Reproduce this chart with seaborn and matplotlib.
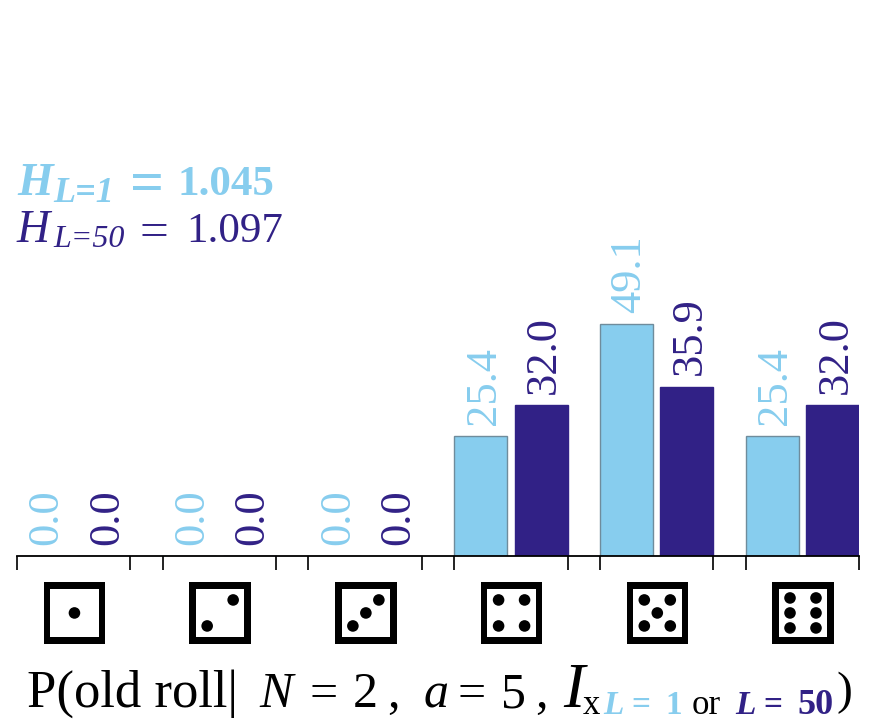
import matplotlib
matplotlib.use("Agg")
import matplotlib.pyplot as plt
from matplotlib.patches import Circle, Rectangle
import pandas as pd
import seaborn as sns

# Roll probabilities (%) for each die face
faces = ["1", "2", "3", "4", "5", "6"]
values_l1 = [0.0, 0.0, 0.0, 25.4, 49.1, 25.4]
values_l50 = [0.0, 0.0, 0.0, 32.0, 35.9, 32.0]
series_names = ["L = 1", "L = 50"]
entropy_l1 = "1.045"
entropy_l50 = "1.097"

LIGHT = "#87CDEE"
DARK = "#312186"
SERIF = "Liberation Serif"
W, H = 878, 725

# Pip layout of each face, in die units (centre at 0)
pips = {
    "1": [(0, 0)],
    "2": [(-13, -13), (13, 13)],
    "3": [(-13, -13), (0, 0), (13, 13)],
    "4": [(-13, -13), (13, -13), (-13, 13), (13, 13)],
    "5": [(-13, -13), (13, -13), (0, 0), (-13, 13), (13, 13)],
    "6": [(-13, -15), (13, -15), (-13, 0), (13, 0), (-13, 15), (13, 15)],
}

df = pd.DataFrame({
    "face": faces * 2,
    "series": [series_names[0]] * 6 + [series_names[1]] * 6,
    "value": values_l1 + values_l50,
})

sns.set_theme(style="white", rc={"font.family": SERIF})
fig = plt.figure(figsize=(W / 100, H / 100), dpi=100)
ax = fig.add_axes([17 / W, 1 - 556 / H, 842 / W, 556 / H])

sns.barplot(
    data=df, x="face", y="value", hue="series", order=faces,
    hue_order=series_names, palette=[LIGHT, DARK], saturation=1,
    width=0.83, gap=0.124, legend=False, ax=ax,
)

for container, colour, edge in zip(ax.containers, [LIGHT, DARK], ["#6F8C9C", DARK]):
    for bar in container:
        bar.set_edgecolor(edge)
        bar.set_linewidth(1.0)
    labels = ax.bar_label(container, fmt="%.1f", rotation=90, padding=8,
                          color=colour, fontsize=32, family=SERIF)
    for label in labels:
        label.xyann = (2.2, 8)

# Ticks sit on the outer edges of each pair of bars
left_edges = [b.get_x() for b in ax.containers[0]]
right_edges = [b.get_x() + b.get_width() for b in ax.containers[1]]
edges = sorted(left_edges + right_edges)
ax.set_xticks(edges, labels=[""] * len(edges))
ax.set_yticks([])
ax.set_xlim(edges[0], edges[-1])
ax.set_ylim(0, 556 / 4.72)
ax.set_xlabel("")
ax.set_ylabel("")
ax.patch.set_alpha(0)
sns.despine(ax=ax, left=True)
ax.spines["bottom"].set_linewidth(1.3)
ax.spines["bottom"].set_color("black")
ax.spines["bottom"].set_zorder(5)
ax.tick_params(axis="x", bottom=True, length=10, width=1.3, color="#111111")

# Die icons under each pair of bars: black square, white face, black pips
die_size = 61.5
border = 6.5
half = die_size / 2
die_w = die_size / 145.8
die_h = die_size / 556
die_y = -(643.7 - 556) / 556
for i, face in enumerate(faces):
    die = ax.inset_axes([i + 0.005 - die_w / 2, die_y, die_w, die_h],
                        transform=ax.get_xaxis_transform())
    die.set_xlim(-half, half)
    die.set_ylim(-half, half)
    die.axis("off")
    die.add_patch(Rectangle((-half, -half), die_size, die_size, color="black", lw=0))
    die.add_patch(Rectangle((-half + border, -half + border),
                            die_size - 2 * border, die_size - 2 * border,
                            color="white", lw=0))
    for (px, py) in pips[face]:
        die.add_patch(Circle((px, py), 5.8, color="black", lw=0))


def put(x, y, s, size, colour="black", weight="normal", style="normal"):
    """Place a text fragment with its baseline at pixel (x, y) from the top left."""
    fig.text(x / W, 1 - y / H, s, fontsize=size, color=colour, weight=weight,
             style=style, family=SERIF, ha="left", va="baseline")


# Entropy annotations
put(17, 195, "H", 33, LIGHT, "bold", "italic")
put(53, 202, "L=1", 26, LIGHT, "bold", "italic")
put(130, 201, "=", 43, LIGHT, "bold")
put(178, 195, entropy_l1, 31, LIGHT, "bold")
put(17, 242, "H", 33, DARK, style="italic")
put(53, 247, "L=50", 23, DARK, style="italic")
put(140, 246, "=", 37, DARK)
put(186, 242, entropy_l50, 31, DARK)

# Axis caption built from differently styled fragments
put(27, 707, "P(old roll|", 38)
put(259, 707, "N", 36, style="italic")
put(310, 707, "=", 36)
put(353, 707, "2", 36)
put(387, 707, ",", 36)
put(424, 707, "a", 36, style="italic")
put(458, 707, "=", 36)
put(501, 707, "5", 36)
put(535, 707, ",", 36)
put(563, 707, "I", 46, style="italic")
put(583, 714, "x", 25)
put(603, 714, "L", 24, LIGHT, "bold", "italic")
put(631, 714, "=", 24, LIGHT, "bold")
put(665, 714, "1", 24, LIGHT, "bold")
put(692, 714, "or", 25)
put(735, 714, "L", 24, DARK, "bold", "italic")
put(763, 714, "=", 24, DARK, "bold")
put(797, 714, "50", 26, DARK, "bold")
put(836, 704, ")", 34)

fig.savefig("out.png", dpi=100)
